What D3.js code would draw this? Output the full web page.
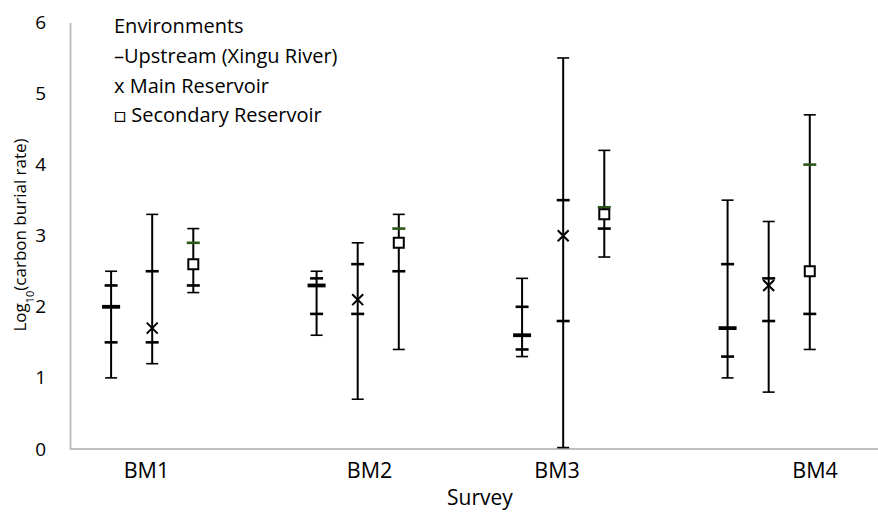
<!DOCTYPE html>
<html>
<head>
<meta charset="utf-8">
<script src="https://cdn.jsdelivr.net/npm/d3@7"></script>
<style>
  body { margin: 0; background: #fff; }
  svg text { font-family: "Open Sans", Lato, sans-serif; fill: #000; }
</style>
</head>
<body>
<svg id="chart" width="878" height="512"></svg>
<script>
// survey groups and environments
const groups = ["BM1", "BM2", "BM3", "BM4"];
const envs = ["Upstream (Xingu River)", "Main Reservoir", "Secondary Reservoir"];
const legendLabels = ["–Upstream (Xingu River)", "x Main Reservoir", "□ Secondary Reservoir"];
const yTicks = [0, 1, 2, 3, 4, 5, 6];
// where the survey labels sit on the x axis (same units as the bars)
const groupLabelPos = [1.86, 7.29, 11.85, 18.13];

// values per environment (rows) and survey (columns)
const lowVals  = [[1.0, 1.6, 1.3, 1.0], [1.2, 0.7, 0.02, 0.8], [2.2, 1.4, 2.7, 1.4]];
const q1Vals   = [[1.5, 1.9, 1.4, 1.3], [1.5, 1.9, 1.8, 1.8], [2.3, 2.5, 3.1, 1.9]];
const midVals  = [[2.0, 2.3, 1.6, 1.7], [1.7, 2.1, 3.0, 2.3], [2.6, 2.9, 3.3, 2.5]];
const q3Vals   = [[2.3, 2.4, 2.0, 2.6], [2.5, 2.6, 3.5, 2.4], [2.9, 3.1, 3.4, 4.0]];
const highVals = [[2.5, 2.5, 2.4, 3.5], [3.3, 2.9, 5.5, 3.2], [3.1, 3.3, 4.2, 4.7]];

const svg = d3.select("#chart");

// scales
const x = d3.scaleLinear().domain([0, 19.66]).range([70, 878]);
const y = d3.scaleLinear().domain([0, 6]).range([449, 22.4]);

// flat rows
const rows = [];
envs.forEach((env, e) => {
    groups.forEach((g, i) => {
        rows.push({
            env: e, group: g, pos: i * 5 + e + 1,
            low: lowVals[e][i], q1: q1Vals[e][i], mid: midVals[e][i],
            q3: q3Vals[e][i], high: highVals[e][i]
        });
    });
});

// y axis
const yAxis = svg.append("g")
    .attr("transform", `translate(${x(0)},0)`)
    .call(d3.axisLeft(y).tickValues(yTicks).tickSize(0).tickPadding(24).tickFormat(d3.format("d")));
yAxis.select(".domain").attr("stroke", "#bfbfbf").attr("stroke-width", 2);
yAxis.selectAll("text").style("font-size", "19px").style("font-family", "'Open Sans', sans-serif");

// x axis line
svg.append("line")
    .attr("x1", x(0)).attr("x2", x(19.66))
    .attr("y1", y(0)).attr("y2", y(0))
    .attr("stroke", "#bfbfbf").attr("stroke-width", 2);

// survey labels
svg.selectAll(".glabel")
    .data(groups)
    .enter()
    .append("text")
    .attr("class", "glabel")
    .attr("x", (d, i) => x(groupLabelPos[i]))
    .attr("y", 478)
    .attr("text-anchor", "middle")
    .style("font-size", "21.5px")
    .text(d => d);

// axis titles
svg.append("text")
    .attr("x", 480).attr("y", 505)
    .attr("text-anchor", "middle")
    .style("font-size", "21px")
    .text("Survey");

const yTitle = svg.append("text")
    .attr("transform", "translate(26,235) rotate(-90)")
    .attr("text-anchor", "middle")
    .style("font-size", "17px");
yTitle.append("tspan").text("Log");
yTitle.append("tspan").attr("baseline-shift", "sub").style("font-size", "11px").text("10");
yTitle.append("tspan").text("(carbon burial rate)");

// error bars
const bars = svg.append("g");

bars.selectAll(".whisker")
    .data(rows)
    .enter()
    .append("line")
    .attr("x1", d => x(d.pos)).attr("x2", d => x(d.pos))
    .attr("y1", d => y(d.low)).attr("y2", d => y(d.high))
    .attr("stroke", "#000").attr("stroke-width", 2);

// caps
["low", "high"].forEach(k => {
    bars.selectAll(".cap-" + k)
        .data(rows)
        .enter()
        .append("line")
        .attr("x1", d => x(d.pos) - 6).attr("x2", d => x(d.pos) + 6)
        .attr("y1", d => y(d[k])).attr("y2", d => y(d[k]))
        .attr("stroke", "#000").attr("stroke-width", 1.6);
});

// quartile ticks (upper tick of secondary reservoir is green)
["q1", "q3"].forEach(k => {
    bars.selectAll(".tick-" + k)
        .data(rows)
        .enter()
        .append("line")
        .attr("x1", d => x(d.pos) - 6.5).attr("x2", d => x(d.pos) + 6.5)
        .attr("y1", d => y(d[k])).attr("y2", d => y(d[k]))
        .attr("stroke", d => (k === "q3" && d.env === 2) ? "#2c5518" : "#000")
        .attr("stroke-width", 2.6);
});

// upstream: thick dash
bars.selectAll(".dash")
    .data(rows.filter(d => d.env === 0))
    .enter()
    .append("line")
    .attr("x1", d => x(d.pos) - 9).attr("x2", d => x(d.pos) + 9)
    .attr("y1", d => y(d.mid)).attr("y2", d => y(d.mid))
    .attr("stroke", "#000").attr("stroke-width", 3.8);

// main reservoir: x
bars.selectAll(".cross")
    .data(rows.filter(d => d.env === 1))
    .enter()
    .append("path")
    .attr("transform", d => `translate(${x(d.pos)},${y(d.mid)})`)
    .attr("d", d3.symbol(d3.symbolTimes, 80)())
    .attr("fill", "none")
    .attr("stroke", "#000").attr("stroke-width", 2);

// secondary reservoir: square
bars.selectAll(".square")
    .data(rows.filter(d => d.env === 2))
    .enter()
    .append("path")
    .attr("transform", d => `translate(${x(d.pos)},${y(d.mid)})`)
    .attr("d", d3.symbol(d3.symbolSquare, 100)())
    .attr("fill", "#fff")
    .attr("stroke", "#000").attr("stroke-width", 2);

// legend
const legend = svg.append("g").attr("transform", "translate(114,0)");
legend.append("text")
    .attr("x", 0).attr("y", 33)
    .style("font-size", "20px")
    .text("Environments");
legend.selectAll(".leg")
    .data(legendLabels)
    .enter()
    .append("text")
    .attr("x", 0)
    .attr("y", (d, i) => 63 + i * 29.7)
    .style("font-size", "20px")
    .text(d => d);
</script>
</body>
</html>
